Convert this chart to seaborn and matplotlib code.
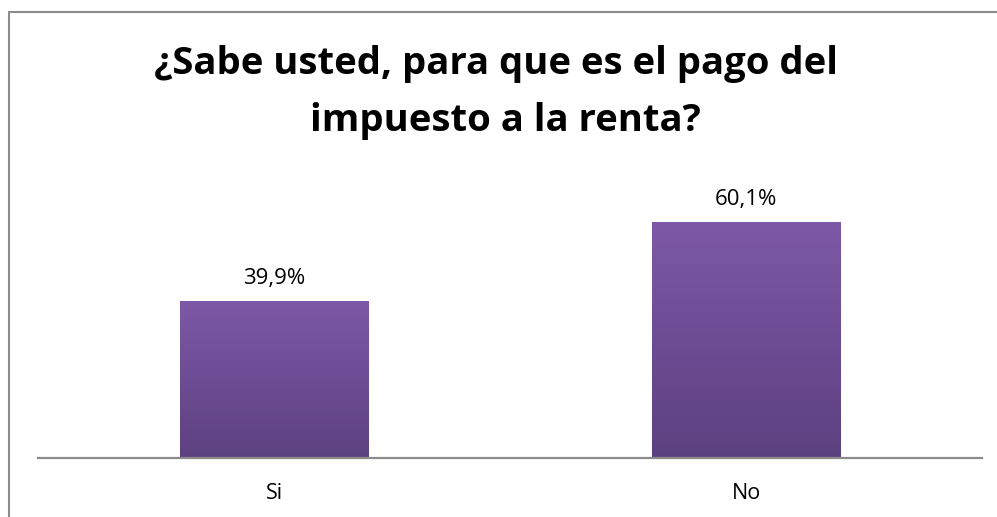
import numpy as np
import pandas as pd
import matplotlib
matplotlib.use("Agg")
import matplotlib.pyplot as plt
from matplotlib.colors import LinearSegmentedColormap
from matplotlib.lines import Line2D
import seaborn as sns

# Survey answers
categories = ["Si", "No"]
percentages = [39.9, 60.1]
value_labels = ["39,9%", "60,1%"]
title_lines = ["¿Sabe usted, para que es el pago del", "impuesto a la renta?"]

W, H = 997, 517

sns.set_style("white")
plt.rcParams["font.family"] = ["Open Sans", "DejaVu Sans"]

df = pd.DataFrame({"respuesta": categories, "porcentaje": percentages})

fig = plt.figure(figsize=(W / 100, H / 100), dpi=100)
ax = fig.add_axes([38 / W, (H - 458) / H, 944 / W, 275 / H])

sns.barplot(data=df, x="respuesta", y="porcentaje", width=0.4,
            color="#6F4E98", ax=ax, saturation=1)

ax.set_xlim(-0.5, 1.5)
ax.set_ylim(0, 70)

# vertical purple gradient on each bar
grad_cmap = LinearSegmentedColormap.from_list("purp", ["#5C4180", "#7D58A7"])
grad = np.linspace(0, 1, 256).reshape(-1, 1)
for bar, lab in zip(ax.patches, value_labels):
    x0, y0 = bar.get_x(), bar.get_y()
    w, h = bar.get_width(), bar.get_height()
    im = ax.imshow(grad, cmap=grad_cmap, origin="lower", aspect="auto",
                   extent=[x0, x0 + w, y0, y0 + h], zorder=bar.get_zorder() + 0.1)
    im.set_clip_path(bar)
    ax.annotate(lab, (x0 + w / 2, y0 + h), xytext=(0, 12.5), textcoords="offset points",
                ha="center", va="baseline", fontsize=16, color="#000000")

ax.set_xlim(-0.5, 1.5)
ax.set_ylim(0, 70)

ax.set_xlabel("")
ax.set_ylabel("")
ax.set_yticks([])
ax.tick_params(axis="x", length=0, labelsize=15.5, pad=18, colors="#000000")
for s in ["top", "right", "left"]:
    ax.spines[s].set_visible(False)
ax.spines["bottom"].set_color("#8C8C8C")
ax.spines["bottom"].set_linewidth(1.6)

fig.text(496 / W, 1 - 74 / H, title_lines[0], ha="center", va="baseline",
         fontsize=27.5, fontweight="bold", color="#000000")
fig.text(505 / W, 1 - 131 / H, title_lines[1], ha="center", va="baseline",
         fontsize=27.5, fontweight="bold", color="#000000")

# chart frame (only the top and left edges show in the crop)
fig.add_artist(Line2D([9 / W, 9 / W], [0, 1 - 12 / H], transform=fig.transFigure,
                      color="#8C8C8C", linewidth=1.5))
fig.add_artist(Line2D([9 / W, 1], [1 - 12 / H, 1 - 12 / H], transform=fig.transFigure,
                      color="#8C8C8C", linewidth=1.5))

fig.savefig("out.png", dpi=100)
plt.close(fig)
